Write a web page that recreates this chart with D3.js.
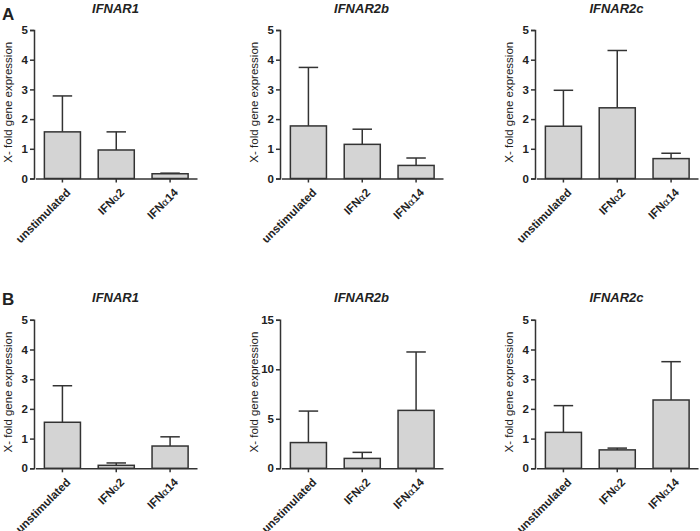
<!DOCTYPE html>
<html>
<head>
<meta charset="utf-8">
<script src="https://cdn.jsdelivr.net/npm/d3@7"></script>
<style>
  body { margin: 0; background: #fff; }
  text { font-family: "Liberation Sans", Arial, sans-serif; fill: #222; }
</style>
</head>
<body>
<svg width="700" height="531"></svg>
<script>
// categories + values
var categories = ["unstimulated", "IFNα2", "IFNα14"];

var titles = ["IFNAR1", "IFNAR2b", "IFNAR2c", "IFNAR1", "IFNAR2b", "IFNAR2c"];
var yMax = [5, 5, 5, 5, 15, 5];
var yTicks = [[0,1,2,3,4,5], [0,1,2,3,4,5], [0,1,2,3,4,5], [0,1,2,3,4,5], [0,5,10,15], [0,1,2,3,4,5]];

var means = [
  [1.57, 0.96, 0.16],
  [1.77, 1.15, 0.44],
  [1.76, 2.38, 0.67],
  [1.55, 0.10, 0.75],
  [2.60, 1.00, 5.85],
  [1.21, 0.62, 2.30]
];
var errTop = [
  [2.78, 1.57, 0.18],
  [3.74, 1.66, 0.69],
  [2.97, 4.31, 0.85],
  [2.78, 0.18, 1.06],
  [5.78, 1.61, 11.75],
  [2.11, 0.68, 3.59]
];

var panelLetters = ["A", "B"];

var svg = d3.select("svg");

var colX = [34, 280, 535];   // y-axis position of each column
var rowY = [178.5, 468.3];    // baseline (y=0) of each row
var plotW = 163, plotH = 148.5;

function drawPanel(i) {
  var col = i % 3, row = Math.floor(i / 3);
  var g = svg.append("g")
      .attr("transform", "translate(" + colX[col] + "," + (rowY[row] - plotH) + ")");

  var x = d3.scaleBand()
      .domain(categories)
      .range([1.5, plotW])
      .paddingInner(0.33)
      .paddingOuter(0.165);

  var y = d3.scaleLinear()
      .domain([0, yMax[i]])
      .range([plotH, 0]);

  var data = categories.map(function(c, k) { return {cat: c, m: means[i][k], e: errTop[i][k]}; });

  // error bars (upper only), drawn behind the bars
  var cap = x.bandwidth() * 0.27;
  g.selectAll(".err").data(data).enter().append("line")
      .attr("x1", function(d) { return x(d.cat) + x.bandwidth() / 2; })
      .attr("x2", function(d) { return x(d.cat) + x.bandwidth() / 2; })
      .attr("y1", function(d) { return y(d.m); })
      .attr("y2", function(d) { return y(d.e); })
      .attr("stroke", "#333").attr("stroke-width", 1.5);
  g.selectAll(".cap").data(data).enter().append("line")
      .attr("x1", function(d) { return x(d.cat) + x.bandwidth() / 2 - cap; })
      .attr("x2", function(d) { return x(d.cat) + x.bandwidth() / 2 + cap; })
      .attr("y1", function(d) { return y(d.e); })
      .attr("y2", function(d) { return y(d.e); })
      .attr("stroke", "#333").attr("stroke-width", 1.5);

  g.selectAll(".bar").data(data).enter().append("rect")
      .attr("x", function(d) { return x(d.cat); })
      .attr("y", function(d) { return y(d.m); })
      .attr("width", x.bandwidth())
      .attr("height", function(d) { return y(0) - y(d.m); })
      .attr("fill", "#d4d4d4")
      .attr("stroke", "#333").attr("stroke-width", 1.5);

  // y axis
  var ya = g.append("g")
      .call(d3.axisLeft(y).tickValues(yTicks[i]).tickSize(4).tickPadding(2).tickFormat(d3.format("d")));
  ya.select(".domain").attr("stroke", "#333").attr("stroke-width", 1.5);
  ya.selectAll(".tick line").attr("stroke", "#333").attr("stroke-width", 1.5);
  ya.selectAll(".tick text").attr("font-size", 11.5).attr("font-weight", "bold")
      .attr("font-family", "Liberation Sans, Arial, sans-serif").attr("fill", "#222");

  // x axis
  var xa = g.append("g")
      .attr("transform", "translate(0," + plotH + ")")
      .call(d3.axisBottom(x).tickSize(4).tickSizeOuter(0).tickFormat(""));
  xa.select(".domain").attr("stroke", "#333").attr("stroke-width", 1.5);
  xa.selectAll(".tick line").attr("stroke", "#333").attr("stroke-width", 1.5);

  // rotated category labels, alpha in a lighter glyph
  categories.forEach(function(c) {
    var t = g.append("text")
        .attr("transform", "translate(" + (x(c) + x.bandwidth() / 2 + 3) + "," + (plotH + 9) + ") rotate(-45)")
        .attr("text-anchor", "end")
        .attr("dy", "0.7em")
        .attr("font-size", 11.5)
        .attr("font-weight", "bold");
    var parts = c.split("α");
    t.append("tspan").text(parts[0]);
    if (parts.length > 1) {
      t.append("tspan").attr("font-weight", "normal").attr("font-family", "DejaVu Sans").attr("font-size", 10).text("α");
      t.append("tspan").text(parts[1]);
    }
  });

  // y label
  g.append("text")
      .attr("transform", "translate(-22," + (plotH / 2 - 2) + ") rotate(-90)")
      .attr("text-anchor", "middle")
      .attr("font-size", 11.5)
      .text("X- fold gene expression");

  // title
  g.append("text")
      .attr("x", plotW / 2)
      .attr("y", -17.5)
      .attr("text-anchor", "middle")
      .attr("font-size", 13)
      .attr("font-weight", "bold")
      .attr("font-style", "italic")
      .text(titles[i]);
}

for (var i = 0; i < 6; i++) drawPanel(i);

svg.selectAll(".letter").data(panelLetters).enter().append("text")
    .attr("x", 2)
    .attr("y", function(d, k) { return k === 0 ? 20 : 305; })
    .attr("font-size", 17)
    .attr("font-weight", "bold")
    .text(function(d) { return d; });
</script>
</body>
</html>
